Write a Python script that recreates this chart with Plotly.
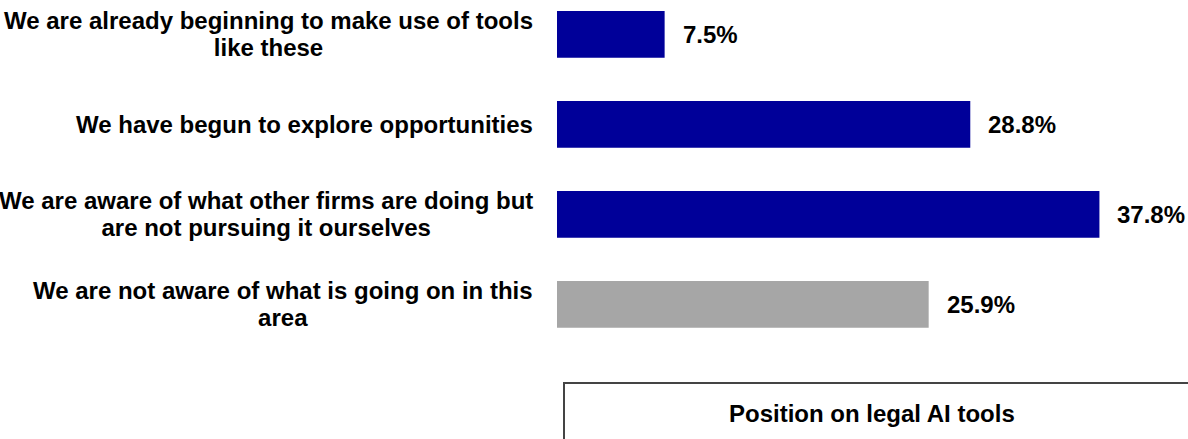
import plotly.graph_objects as go

# Survey responses: position on legal AI tools
categories = [
    "We are already beginning to make use of tools<br>like these",
    "We have begun to explore opportunities",
    "We are aware of what other firms are doing but<br>are not pursuing it ourselves",
    "We are not aware of what is going on in this<br>area",
]
shares = [7.5, 28.8, 37.8, 25.9]
bar_colors = ["#000099", "#000099", "#000099", "#A6A6A6"]
box_title = "Position on legal AI tools"

FONT = "Liberation Sans, Arial, Helvetica, sans-serif"
W, H = 1188, 439
LEFT = 557          # x pixel where bars start
PX_PER_PCT = 14.35  # horizontal scale
ROW = 90            # pixels per category row
FIRST_ROW = 34.3    # centre of first bar from top

y_idx = list(range(len(categories)))

fig = go.Figure(
    go.Bar(
        x=shares,
        y=y_idx,
        orientation="h",
        marker=dict(color=bar_colors, line=dict(width=0)),
        width=0.52,
        hoverinfo="skip",
    )
)


def tight_lines(label):
    # larger glyphs inside a smaller base font keeps the line pitch compact
    parts = label.split("<br>")
    return "<br>".join(f'<span style="font-size:24px"><b>{p}</b></span>' for p in parts)


annotations = []
# category labels to the left of the bars, lines centred on each other
for i, label in enumerate(categories):
    annotations.append(dict(
        x=0, xref="paper", xanchor="right", xshift=-22,
        y=i, yref="y", yanchor="middle",
        text=tight_lines(label), showarrow=False, align="center",
        font=dict(family=FONT, size=21, color="#000000"),
    ))
# value labels after each bar
for i, v in enumerate(shares):
    annotations.append(dict(
        x=v, xref="x", xanchor="left", xshift=16,
        y=i, yref="y", yanchor="middle",
        text=f"<b>{v:.1f}%</b>", showarrow=False,
        font=dict(family=FONT, size=24, color="#000000"),
    ))

plot_w = W - LEFT
# caption box at the bottom right
box_left = (564 - LEFT) / plot_w
box_top = 1 - 383 / H
annotations.append(dict(
    x=(727 - LEFT) / plot_w, xref="paper", xanchor="left",
    y=1 - 413 / H, yref="paper", yanchor="middle",
    text=f"<b>{box_title}</b>", showarrow=False,
    font=dict(family=FONT, size=24, color="#000000"),
))

fig.update_layout(
    width=W, height=H,
    margin=dict(l=LEFT, r=0, t=0, b=0, pad=0),
    paper_bgcolor="white", plot_bgcolor="white",
    showlegend=False,
    xaxis=dict(range=[0, plot_w / PX_PER_PCT], visible=False, fixedrange=True),
    yaxis=dict(range=[-FIRST_ROW / ROW + H / ROW, -FIRST_ROW / ROW],
               visible=False, fixedrange=True),
    annotations=annotations,
    shapes=[dict(
        type="rect", xref="paper", yref="paper",
        x0=box_left, x1=1.05, y0=-0.2, y1=box_top,
        line=dict(color="#444444", width=2), fillcolor="rgba(0,0,0,0)",
        layer="above",
    )],
)

fig.write_html("out.html", config={"displayModeBar": False})
